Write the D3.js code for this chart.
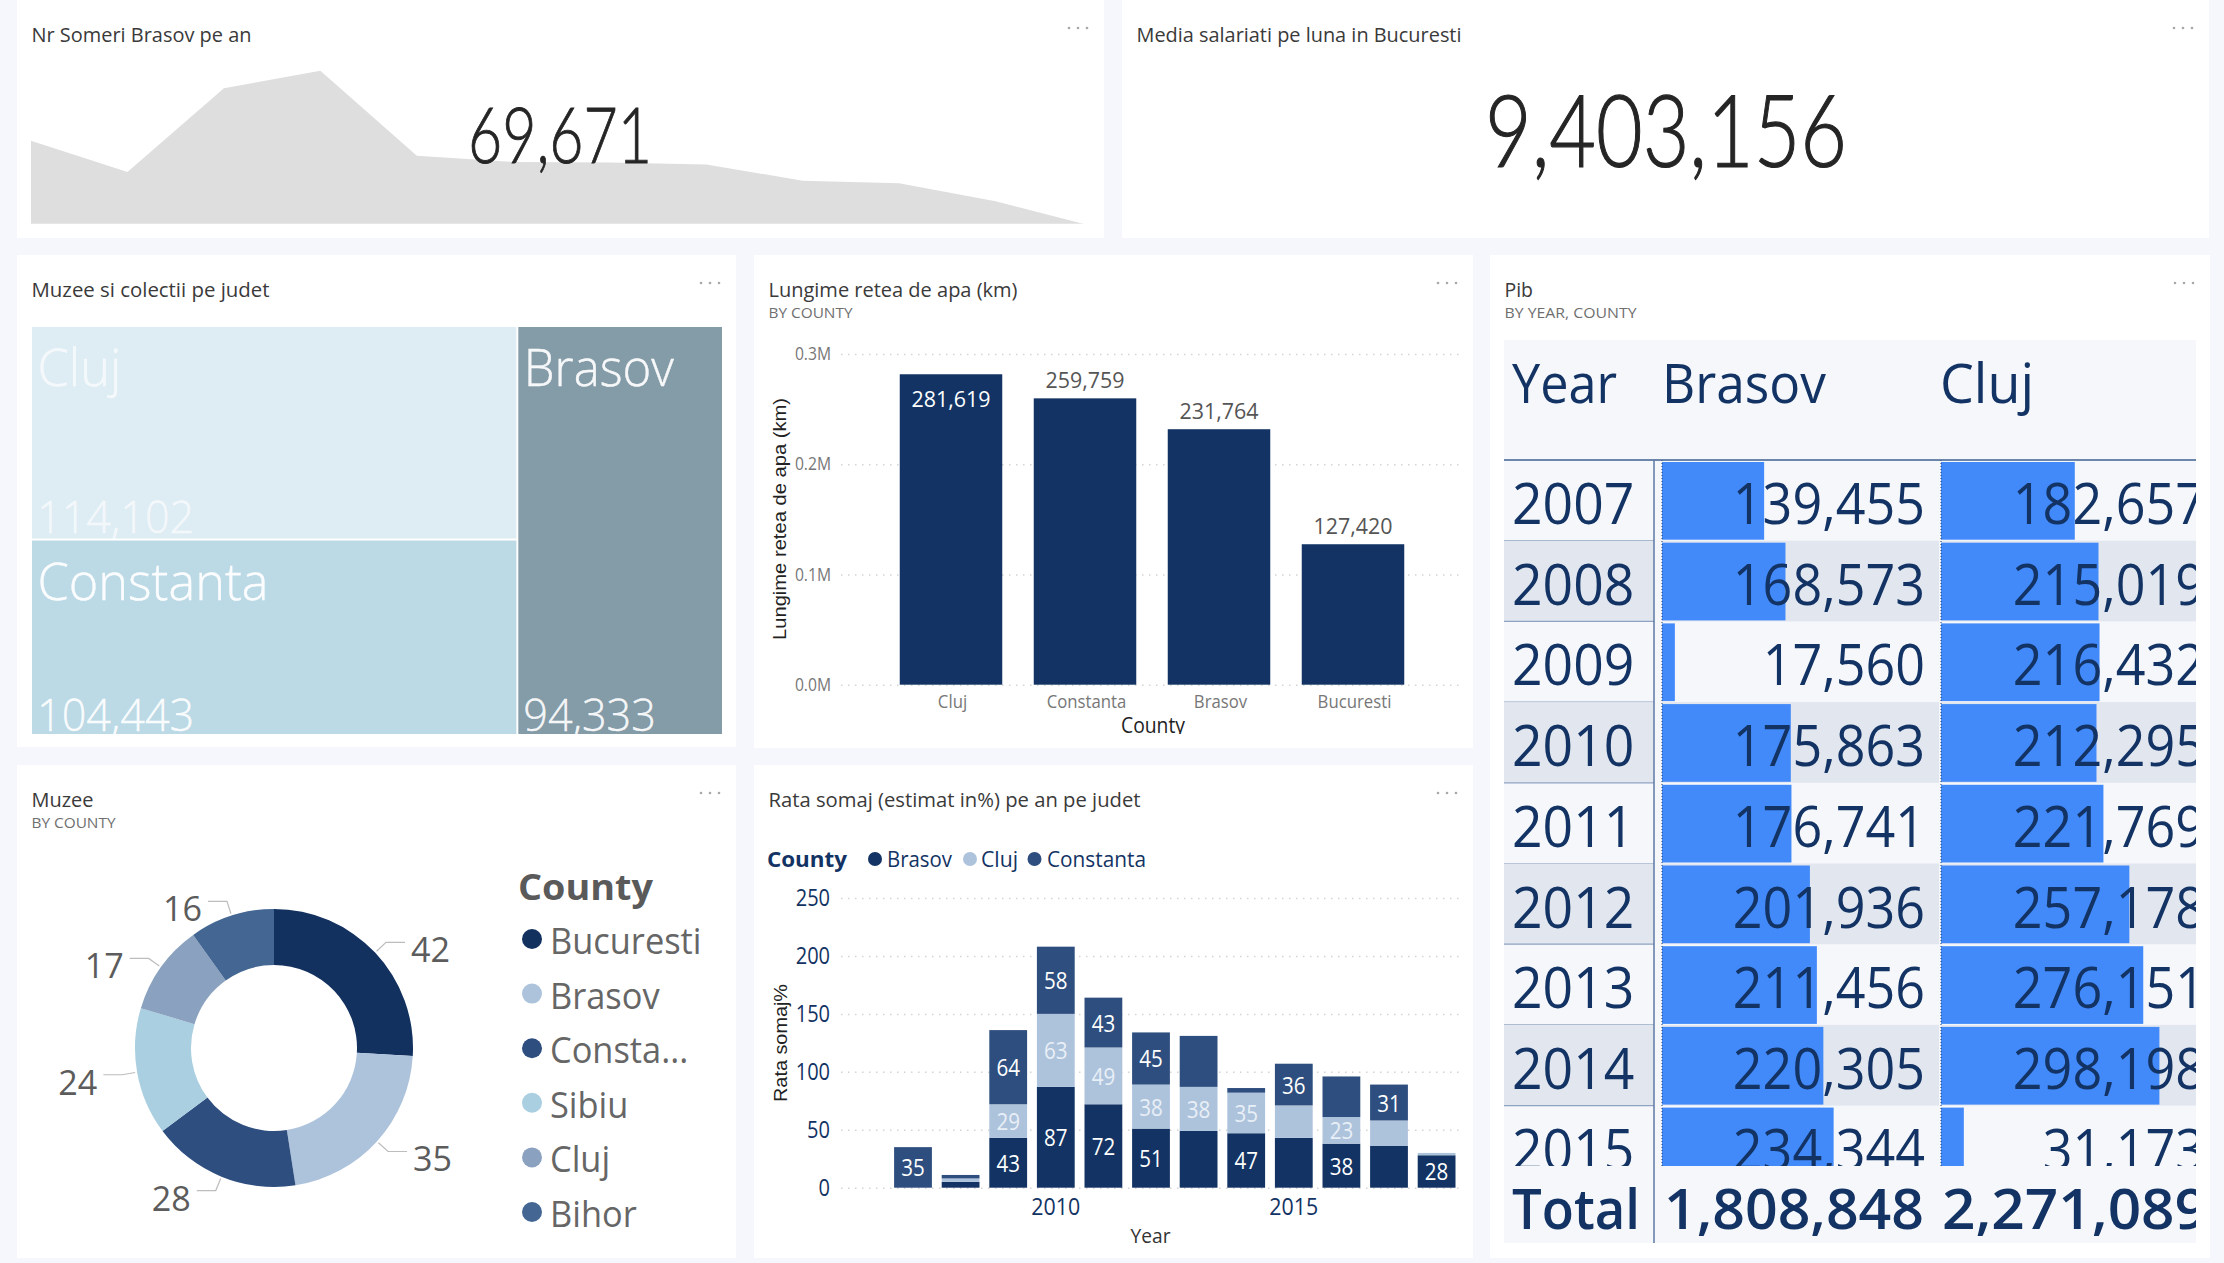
<!DOCTYPE html>
<html>
<head>
<meta charset="utf-8">
<script src="https://cdn.jsdelivr.net/npm/d3@7"></script>
<style>
  html, body { margin: 0; padding: 0; background: #f5f7fc; overflow: hidden; }
  svg { display: block; }
  text { font-family: "Open Sans", sans-serif; }
</style>
</head>
<body>
<svg width="2224" height="1263"></svg>
<script>
// sparkline card
const sparkYears = [2007, 2008, 2009, 2010, 2011, 2012, 2013, 2014, 2015, 2016, 2017, 2018]
const someriBrasov = [105000, 92500, 126000, 133000, 99000, 96500, 96300, 95500, 89000, 88000, 80800, 70850]
const someriLabel = "69,671"
const salariatiLabel = "9,403,156"

// treemap
const muzeeCounties = ["Cluj", "Constanta", "Brasov"]
const muzeeValues = [114102, 104443, 94333]
const muzeeColors = ["#deecf4", "#bcd9e6", "#849ba8"]
const muzeeNameW = [84, 231, 150]

// water network bars
const apaCounties = ["Cluj", "Constanta", "Brasov", "Bucuresti"]
const apaValues = [281619, 259759, 231764, 127420]
const apaTicks = [0, 100000, 200000, 300000]

// donut
const donutCounties = ["Bucuresti", "Brasov", "Constanta", "Sibiu", "Cluj", "Bihor"]
const donutLegend = ["Bucuresti", "Brasov", "Consta...", "Sibiu", "Cluj", "Bihor"]
const donutValues = [42, 35, 28, 24, 17, 16]
const donutColors = ["#12315f", "#adc3dc", "#2d4e7e", "#a9cfe0", "#8aa2bf", "#436792"]

// stacked unemployment
const somajYears = [2007, 2008, 2009, 2010, 2011, 2012, 2013, 2014, 2015, 2016, 2017, 2018]
const somajBrasov = [0, 5, 43, 87, 72, 51, 49, 47, 43, 38, 36, 28]
const somajCluj = [0, 3, 29, 63, 49, 38, 38, 35, 28, 23, 22, 2]
const somajConstanta = [35, 3, 64, 58, 43, 45, 44, 4, 36, 35, 31, 0]
const somajShown = {
  Brasov: [2009, 2010, 2011, 2012, 2014, 2016, 2018],
  Cluj: [2009, 2010, 2011, 2012, 2013, 2014, 2016],
  Constanta: [2007, 2009, 2010, 2011, 2012, 2015, 2017]
}
const somajKeys = ["Brasov", "Cluj", "Constanta"]
const somajColors = ["#123363", "#adc3dc", "#2d4e7e"]
const somajTicks = [0, 50, 100, 150, 200, 250]

// pib table
const pibYears = [2007, 2008, 2009, 2010, 2011, 2012, 2013, 2014, 2015]
const pibBrasov = [139455, 168573, 17560, 175863, 176741, 201936, 211456, 220305, 234344]
const pibCluj = [182657, 215019, 216432, 212295, 221769, 257178, 276151, 298198, 31173]
const pibTotals = [1808848, 2271089]

const fmt = d3.format(",")
const navy = "#123363"
const svg = d3.select("svg")

// w = target width, sq = horizontal squeeze; applied at the end when text is measured
function txt(parent, str, x, y, o = {}) {
  const t = parent.append("text")
    .attr("x", x)
    .attr("y", y)
    .attr("font-size", o.size || 20)
    .attr("fill", o.fill || "#333")
    .attr("text-anchor", o.anchor || "start")
    .attr("font-weight", o.weight || 400)
    .text(str)
  if (o.family) t.style("font-family", o.family)
  if (o.opacity) t.attr("fill-opacity", o.opacity)
  if (o.w) t.attr("data-w", o.w)
  if (o.sq) t.attr("data-sq", o.sq)
  return t
}

function panel(x0, y0, x1, y1, title, sub, titleW, subW) {
  svg.append("rect")
    .attr("x", x0).attr("y", y0)
    .attr("width", x1 - x0).attr("height", y1 - y0)
    .attr("fill", "#fff")
  txt(svg, title, x0 + 14.5, y0 + 42, { size: 20, fill: "#3a3a3a", w: titleW })
  if (sub) txt(svg, sub, x0 + 14.5, y0 + 63, { size: 14.5, fill: "#6f6f6f", w: subW })
  svg.selectAll(null).data([x1 - 35, x1 - 26, x1 - 17]).enter().append("circle")
    .attr("cx", d => d).attr("cy", y0 + 28).attr("r", 1.3).attr("fill", "#a8a8a8")
}

function clip(id, x, y, w, h) {
  svg.append("clipPath").attr("id", id).append("rect")
    .attr("x", x).attr("y", y).attr("width", w).attr("height", h)
  return `url(#${id})`
}

const bigFont = "Lato, 'Open Sans', sans-serif"

/* ---------- top cards ---------- */
panel(17, 0, 1104, 238, "Nr Someri Brasov pe an", null, 220)
panel(1122, 0, 2209, 238, "Media salariati pe luna in Bucuresti", null, 325)

txt(svg, salariatiLabel, 1485, 167, { size: 101, weight: 300, fill: "#252525", family: bigFont, w: 362 })
  .attr("stroke", "#252525").attr("stroke-width", 1.2)

const sx = d3.scaleLinear().domain([2007, 2018]).range([31, 1092])
const sy = d3.scaleLinear().domain([71800, 133000]).range([223.7, 70.7])
svg.append("path")
  .datum(someriBrasov)
  .attr("clip-path", clip("spark", 31, 60, 1060, 163.7))
  .attr("fill", "#dedede")
  .attr("d", d3.area()
    .x((d, i) => sx(sparkYears[i]))
    .y0(240)
    .y1(d => sy(d)))

txt(svg, someriLabel, 468, 162.5, { size: 76, weight: 300, fill: "#252525", family: bigFont, w: 184 })
  .attr("stroke", "#252525").attr("stroke-width", 0.9)

/* ---------- treemap ---------- */
panel(17, 255, 736, 747, "Muzee si colectii pe judet", null, 238)

const root = d3.hierarchy({ children: muzeeCounties.map((c, i) => ({ name: c, value: muzeeValues[i], color: muzeeColors[i], nameW: muzeeNameW[i] })) })
  .sum(d => d.value || 0)
d3.treemap().size([690, 407]).paddingInner(2)(root)

// column split sits a little further right in the reference
const tmX = d3.scaleLinear().domain([0, 481, 690]).range([0, 484, 690])
const tm = svg.append("g")
  .attr("transform", "translate(32, 327)")
  .attr("clip-path", clip("tmclip", 0, 0, 690, 407))
root.leaves().forEach(d => {
  tm.append("rect")
    .attr("x", tmX(d.x0)).attr("y", d.y0)
    .attr("width", tmX(d.x1) - tmX(d.x0)).attr("height", d.y1 - d.y0)
    .attr("fill", d.data.color)
  const op = d.data.name === "Cluj" ? 0.65 : 0.92
  txt(tm, d.data.name, tmX(d.x0) + 5.5, d.y0 + 59, { size: 51, weight: 300, fill: "#fff", opacity: op, w: d.data.nameW })
    .attr("stroke", "#fff").attr("stroke-opacity", op).attr("stroke-width", 0.4)
  txt(tm, fmt(d.data.value), tmX(d.x0) + 5, d.y1 - (d.data.name === "Cluj" ? 6 : 3), { size: 45, weight: 300, fill: "#fff", opacity: op, sq: 0.96 })
    .attr("stroke", "#fff").attr("stroke-opacity", op).attr("stroke-width", 0.4)
})

/* ---------- water network ---------- */
panel(754, 255, 1473, 748, "Lungime retea de apa (km)", "BY COUNTY", 249, 84)

const ax = d3.scaleBand().domain(apaCounties).range([884, 1420]).paddingInner(0.235).paddingOuter(0.1175)
const ay = d3.scaleLinear().domain([0, 300000]).range([684.7, 354])

svg.append("g")
  .attr("transform", "translate(841, 0)")
  .call(d3.axisLeft(ay).tickValues(apaTicks).tickFormat(d => (d / 1e6).toFixed(1) + "M").tickSize(-621).tickPadding(10))
  .call(g => g.select(".domain").remove())
  .call(g => g.selectAll("line").attr("stroke", "#d4d4d4").attr("stroke-width", 1.5).attr("stroke-dasharray", "1.5 5.5"))
  .call(g => g.selectAll("text").attr("font-size", 18).attr("fill", "#777").attr("font-family", null))

svg.selectAll(".apa").data(apaValues).enter().append("rect")
  .attr("class", "apa")
  .attr("x", (d, i) => ax(apaCounties[i]))
  .attr("y", d => ay(d))
  .attr("width", ax.bandwidth())
  .attr("height", d => ay(0) - ay(d))
  .attr("fill", navy)

apaValues.forEach((v, i) => {
  const cx = ax(apaCounties[i]) + ax.bandwidth() / 2
  const inside = i === 0
  txt(svg, fmt(v), cx, inside ? ay(v) + 33 : ay(v) - 10, { size: 22, anchor: "middle", fill: inside ? "#fff" : "#555", w: 79 })
  txt(svg, apaCounties[i], cx + 1.5, 708, { size: 18, anchor: "middle", fill: "#777", sq: 0.93 })
})

const apaClip = clip("apaclip", 754, 255, 719, 479)
txt(svg, "County", 1153, 733, { size: 21, anchor: "middle", fill: "#222", weight: 500, w: 64 }).attr("clip-path", apaClip)
txt(svg, "Lungime retea de apa (km)", 0, 0, { size: 19, anchor: "middle", fill: "#222", w: 242, family: "'Liberation Sans', sans-serif" })
  .attr("transform", "translate(786, 519) rotate(-90)")

/* ---------- donut ---------- */
panel(17, 765, 736, 1258, "Muzee", "BY COUNTY", 62, 84)

const pie = d3.pie().sort(null).value(d => d)(donutValues)
const arc = d3.arc().innerRadius(83).outerRadius(139)
const startArc = d3.arc().innerRadius(141).outerRadius(141)
const elbowArc = d3.arc().innerRadius(154).outerRadius(154)
const donut = svg.append("g").attr("transform", "translate(274, 1048)")

donut.selectAll("path").data(pie).enter().append("path")
  .attr("d", arc)
  .attr("fill", (d, i) => donutColors[i])

pie.forEach(d => {
  const a = startArc.centroid(d), b = elbowArc.centroid(d)
  const side = b[0] > 0 ? 1 : -1
  donut.append("polyline")
    .attr("points", [a, b, [b[0] + side * 19, b[1]]].join(" "))
    .attr("fill", "none")
    .attr("stroke", "#bdbdbd")
    .attr("stroke-width", 1.2)
  txt(donut, d.value, b[0] + side * 25, b[1] + 20, { size: 35, fill: "#5c5c5c", anchor: side > 0 ? "start" : "end", w: 39 })
})

txt(svg, "County", 518, 900, { size: 36, weight: 700, fill: "#5a5a5a", w: 135 })
donutLegend.forEach((c, i) => {
  const y = 939 + i * 54.6
  svg.append("circle").attr("cx", 532).attr("cy", y).attr("r", 10).attr("fill", donutColors[i])
  txt(svg, c, 550, y + 15, { size: 36, fill: "#666", sq: 0.955 })
})

/* ---------- stacked bars ---------- */
panel(754, 765, 1473, 1258, "Rata somaj (estimat in%) pe an pe judet", null, 372)

const bx = d3.scaleBand().domain(somajYears).range([889.2, 1460.4]).paddingInner(0.206).paddingOuter(0.103)
const by = d3.scaleLinear().domain([0, 250]).range([1187.7, 898])

svg.append("g")
  .attr("transform", "translate(841, 0)")
  .call(d3.axisLeft(by).tickValues(somajTicks).tickSize(-621).tickPadding(11))
  .call(g => g.select(".domain").remove())
  .call(g => g.selectAll("line").attr("stroke", "#d4d4d4").attr("stroke-width", 1.5).attr("stroke-dasharray", "1.5 5.5"))
  .call(g => g.selectAll("text").attr("font-size", 23).attr("fill", navy).attr("font-family", null))

svg.append("g")
  .attr("transform", "translate(0, 1187.7)")
  .call(d3.axisBottom(bx).tickValues([2010, 2015]).tickFormat(d3.format("d")).tickSize(0).tickPadding(11))
  .call(g => g.select(".domain").remove())
  .call(g => g.selectAll("text").attr("font-size", 23).attr("fill", navy).attr("font-family", null).attr("data-sq", 0.93))

const somajRows = somajYears.map((y, i) => ({ year: y, Brasov: somajBrasov[i], Cluj: somajCluj[i], Constanta: somajConstanta[i] }))
const stacked = d3.stack().keys(somajKeys)(somajRows)

const layers = svg.selectAll(".layer").data(stacked).enter().append("g")
  .attr("class", "layer")
  .attr("fill", (d, i) => somajColors[i])

layers.selectAll("rect").data(d => d).enter().append("rect")
  .attr("x", d => bx(d.data.year))
  .attr("y", d => by(d[1]))
  .attr("width", bx.bandwidth())
  .attr("height", d => by(d[0]) - by(d[1]))

stacked.forEach(s => {
  s.forEach(d => {
    if (!somajShown[s.key].includes(d.data.year)) return
    const cy = (by(d[0]) + by(d[1])) / 2
    txt(svg, d.data[s.key], bx(d.data.year) + bx.bandwidth() / 2, cy + 9, {
      size: 23, anchor: "middle", fill: s.key === "Cluj" ? "#e9eff6" : "#fff", w: 23.5
    })
  })
})

txt(svg, "County", 767, 867, { size: 22, weight: 700, fill: navy, w: 80 })
const somajLegend = [[875, 887, 65], [970, 981, 37], [1034.5, 1047, 99]]
somajKeys.forEach((k, i) => {
  const l = somajLegend[i]
  svg.append("circle").attr("cx", l[0]).attr("cy", 859).attr("r", 7).attr("fill", somajColors[i])
  txt(svg, k, l[1], 867, { size: 22, fill: navy, w: l[2] })
})
txt(svg, "Year", 1150.6, 1243, { size: 20, anchor: "middle", fill: "#333", w: 40 })
txt(svg, "Rata somaj%", 0, 0, { size: 19, anchor: "middle", fill: "#222", w: 118, family: "'Liberation Sans', sans-serif" })
  .attr("transform", "translate(787, 1043) rotate(-90)")

/* ---------- pib table ---------- */
panel(1490, 255, 2210, 1258, "Pib", "BY YEAR, COUNTY", 28.5, 132)

const tableX0 = 1504, tableX1 = 2196, sepX = 1654, col2 = 1662, col3 = 1941
const headY = 340, rowsY = 460, rowH = 80.7, rowsEnd = 1166, tableEnd = 1243
const tableSq = 0.93

svg.append("rect").attr("x", tableX0).attr("y", headY)
  .attr("width", tableX1 - tableX0).attr("height", tableEnd - headY).attr("fill", "#f5f7fb")

const tableClip = clip("tblclip", tableX0, headY, tableX1 - tableX0, tableEnd - headY)
const rowsClip = clip("rowclip", tableX0, rowsY, tableX1 - tableX0, rowsEnd - rowsY)
const table = svg.append("g").attr("clip-path", tableClip)
const rows = table.append("g").attr("clip-path", rowsClip)

const barW = d3.scaleLinear().domain([0, d3.max(pibCluj)]).range([0, 218.4])

pibYears.forEach((y, i) => {
  const top = rowsY + i * rowH
  if (i % 2 === 1) {
    [[tableX0, sepX], [col2, col3 - 2], [col3, tableX1]].forEach(c => {
      rows.append("rect").attr("x", c[0]).attr("y", top)
        .attr("width", c[1] - c[0]).attr("height", rowH).attr("fill", "#e1e6ef")
    })
  }
  rows.append("line").attr("x1", tableX0).attr("x2", sepX).attr("y1", top + rowH).attr("y2", top + rowH)
    .attr("stroke", "#8ea3c1").attr("stroke-width", 1.2)
  rows.append("rect").attr("x", col2).attr("y", top + 2).attr("width", barW(pibBrasov[i])).attr("height", rowH - 3).attr("fill", "#4289f9")
  rows.append("rect").attr("x", col3).attr("y", top + 2).attr("width", barW(pibCluj[i])).attr("height", rowH - 3).attr("fill", "#4289f9")
  txt(rows, y, 1512, top + 64, { size: 56, fill: navy, sq: 0.955 })
  txt(rows, fmt(pibBrasov[i]), 1925, top + 64, { size: 56, fill: navy, anchor: "end", sq: tableSq })
  txt(rows, fmt(pibCluj[i]), 2205, top + 64, { size: 56, fill: navy, anchor: "end", sq: tableSq })
})

const dotted = [col2, col3]
table.selectAll(".vdot").data(dotted).enter().append("line")
  .attr("class", "vdot")
  .attr("x1", d => d).attr("x2", d => d)
  .attr("y1", rowsY).attr("y2", rowsEnd)
  .attr("stroke", "#1d3b6b").attr("stroke-width", 1).attr("stroke-dasharray", "1 2")

table.append("line").attr("x1", tableX0).attr("x2", tableX1).attr("y1", rowsY).attr("y2", rowsY)
  .attr("stroke", "#3c5f90").attr("stroke-width", 1.5)
table.append("line").attr("x1", sepX).attr("x2", sepX).attr("y1", rowsY).attr("y2", tableEnd)
  .attr("stroke", "#5c7aa5").attr("stroke-width", 1.5)

txt(table, "Year", 1512, 403, { size: 54, fill: navy, w: 105 })
txt(table, "Brasov", 1662, 403, { size: 54, fill: navy, w: 164 })
txt(table, "Cluj", 1940, 403, { size: 54, fill: navy, w: 94 })
txt(table, "Total", 1512, 1229, { size: 56, fill: navy, weight: 600, w: 128 })
txt(table, fmt(pibTotals[0]), 1664, 1229, { size: 56, fill: navy, weight: 600, w: 260 })
txt(table, fmt(pibTotals[1]), 1942, 1229, { size: 56, fill: navy, weight: 600, w: 266 })

// squeeze every text to the reference widths
svg.selectAll("text").each(function () {
  const el = d3.select(this)
  const w = +el.attr("data-w") || this.getComputedTextLength() * (+el.attr("data-sq") || 0.87)
  el.attr("textLength", w).attr("lengthAdjust", "spacingAndGlyphs")
})
</script>
</body>
</html>
